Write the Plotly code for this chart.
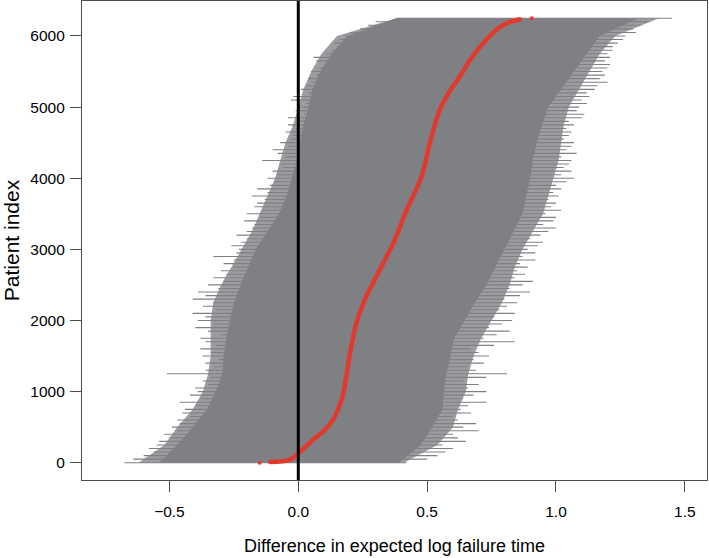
import plotly.graph_objects as go

# ---------------- data ----------------
band_idx = [0, 250, 500, 750, 1000, 1250, 1500, 1750, 2000, 2250, 2500, 2750, 3000,
            3250, 3500, 3750, 4000, 4250, 4500, 4750, 5000, 5250, 5500, 5750, 6000, 6250]
# dense "core" of the per-patient intervals
core_lo = [-0.54, -0.47, -0.41, -0.355, -0.32, -0.295, -0.29, -0.28, -0.265, -0.25, -0.225,
           -0.195, -0.165, -0.12, -0.075, -0.045, -0.025, -0.005, 0.005, 0.02, 0.04, 0.055,
           0.085, 0.13, 0.19, 0.38]
core_hi = [0.39, 0.475, 0.52, 0.56, 0.565, 0.575, 0.59, 0.605, 0.645, 0.685, 0.73, 0.765,
           0.80, 0.835, 0.87, 0.885, 0.90, 0.91, 0.925, 0.945, 0.97, 1.02, 1.07, 1.12, 1.17, 1.32]
# partly covered (hatched) zone around the core
mid_lo = [-0.62, -0.52, -0.47, -0.41, -0.37, -0.35, -0.34, -0.34, -0.34, -0.33, -0.30,
          -0.26, -0.22, -0.18, -0.15, -0.12, -0.09, -0.07, -0.05, -0.02, 0.0, 0.02,
          0.05, 0.09, 0.15, 0.38]
mid_hi = [0.41, 0.54, 0.60, 0.62, 0.65, 0.66, 0.68, 0.71, 0.75, 0.79, 0.82, 0.84,
          0.87, 0.91, 0.95, 0.97, 0.99, 1.01, 1.02, 1.03, 1.05, 1.09, 1.13, 1.17, 1.23, 1.40]

# individual patient intervals, every 50th patient
spike_idx = list(range(0, 6251, 50))
spike_lo = [-0.675, -0.64, -0.60, -0.56, -0.58, -0.55, -0.54, -0.50, -0.52, -0.47,
            -0.49, -0.46, -0.47, -0.42, -0.45, -0.44, -0.40, -0.46, -0.38, -0.42,
            -0.39, -0.40, -0.35, -0.37, -0.34, -0.51, -0.36, -0.33, -0.36, -0.31,
            -0.37, -0.34, -0.38, -0.32, -0.36, -0.38, -0.30, -0.35, -0.40, -0.33,
            -0.39, -0.36, -0.41, -0.32, -0.37, -0.33, -0.41, -0.36, -0.39, -0.31,
            -0.35, -0.29, -0.33, -0.28, -0.30, -0.25, -0.29, -0.25, -0.33, -0.24,
            -0.23, -0.26, -0.22, -0.20, -0.24, -0.20, -0.18, -0.17, -0.21, -0.15,
            -0.20, -0.14, -0.17, -0.16, -0.13, -0.18, -0.12, -0.16, -0.11, -0.09,
            -0.12, -0.08, -0.10, -0.06, -0.07, -0.14, -0.05, -0.08, -0.10, -0.04,
            -0.07, -0.03, -0.02, -0.05, -0.01, -0.04, 0.00, -0.04, 0.02, -0.01,
            0.01, 0.03, -0.03, -0.02, 0.04, 0.01, 0.03, 0.05, 0.04, 0.07,
            0.05, 0.08, 0.10, 0.07, 0.06, 0.11, 0.13, 0.15, 0.14, 0.16,
            0.18, 0.20, 0.24, 0.27, 0.30, 0.38]
spike_hi = [0.42, 0.50, 0.54, 0.57, 0.60, 0.56, 0.65, 0.62, 0.60, 0.70,
            0.64, 0.69, 0.62, 0.60, 0.67, 0.63, 0.66, 0.73, 0.64, 0.68,
            0.73, 0.66, 0.70, 0.64, 0.73, 0.81, 0.69, 0.66, 0.72, 0.68,
            0.74, 0.70, 0.67, 0.76, 0.84, 0.72, 0.77, 0.82, 0.74, 0.79,
            0.83, 0.76, 0.84, 0.78, 0.81, 0.85, 0.80, 0.86, 0.90, 0.82,
            0.87, 0.91, 0.84, 0.88, 0.85, 0.89, 0.86, 0.92, 0.87, 0.92,
            0.89, 0.93, 0.95, 0.90, 0.94, 0.97, 1.00, 0.95, 0.99, 1.00,
            0.96, 1.02, 0.98, 1.00, 0.97, 1.01, 0.99, 1.02, 1.00, 1.04,
            1.07, 1.02, 1.06, 1.03, 1.05, 1.06, 1.02, 1.08, 1.04, 1.06,
            1.07, 1.03, 1.05, 1.06, 1.04, 1.07, 1.05, 1.10, 1.11, 1.08,
            1.09, 1.12, 1.10, 1.13, 1.12, 1.15, 1.16, 1.20, 1.17, 1.19,
            1.18, 1.20, 1.21, 1.19, 1.21, 1.20, 1.22, 1.22, 1.24, 1.26,
            1.27, 1.31, 1.30, 1.33, 1.36, 1.45]

# point estimates (red curve); None splits off the isolated end points
est_idx = [0, None, 10, 40, 130, 320, 450, 600, 700, 850, 980, 1500, 1960, 2290, 2660,
           3130, 3550, 4020, 4490, 4960, 5190, 5430, 5660, 5900, 6090, 6180, 6235, None, 6250]
est_val = [-0.15, None, -0.11, -0.035, 0.0, 0.056, 0.10, 0.134, 0.148, 0.165, 0.175,
           0.199, 0.225, 0.258, 0.309, 0.374, 0.42, 0.478, 0.51, 0.549, 0.582, 0.627,
           0.666, 0.718, 0.77, 0.809, 0.861, None, 0.906]

x_ticks = [-0.5, 0.0, 0.5, 1.0, 1.5]
y_ticks = [0, 1000, 2000, 3000, 4000, 5000, 6000]

GRAY = "#7f8084"
LIGHT = "#9c9da0"
RED = "#e0392e"
AXIS = "#4d4d4d"
FONT = "Liberation Sans, Arial, Helvetica, sans-serif"

fig = go.Figure()

# hatched zone (lighter tone)
fig.add_trace(go.Scatter(
    x=mid_lo + mid_hi[::-1], y=band_idx + band_idx[::-1],
    fill="toself", fillcolor=LIGHT, mode="lines", line=dict(width=0, color=LIGHT),
    hoverinfo="skip", showlegend=False))

# core band
fig.add_trace(go.Scatter(
    x=core_lo + core_hi[::-1], y=band_idx + band_idx[::-1],
    fill="toself", fillcolor=GRAY, mode="lines", line=dict(width=0, color=GRAY),
    hoverinfo="skip", showlegend=False))

# individual intervals
sx, sy = [], []
for i, lo, hi in zip(spike_idx, spike_lo, spike_hi):
    sx += [lo, hi, None]
    sy += [i, i, None]
fig.add_trace(go.Scatter(x=sx, y=sy, mode="lines",
                         line=dict(color=GRAY, width=1.1),
                         hoverinfo="skip", showlegend=False))

# estimates
fig.add_trace(go.Scatter(x=est_val, y=est_idx, mode="lines+markers",
                         line=dict(color=RED, width=4.5, shape="spline"),
                         marker=dict(color=RED, size=4),
                         connectgaps=False, showlegend=False))

fig.add_shape(type="line", x0=0, x1=0, xref="x", y0=0, y1=1, yref="paper",
              line=dict(color="black", width=3), layer="above")

fig.update_layout(
    width=709, height=558,
    margin=dict(l=82, r=2, t=1, b=78),
    paper_bgcolor="white", plot_bgcolor="white",
    font=dict(family=FONT, color="black", size=15.5),
)
fig.update_xaxes(
    range=[-0.8393, 1.586], tickvals=x_ticks, tickformat=".1f",
    showgrid=False, zeroline=False, automargin=False,
    showline=True, mirror=True, linecolor=AXIS, linewidth=1.3,
    ticks="outside", ticklen=11, tickwidth=1.3, tickcolor=AXIS,
    ticklabelstandoff=6,
    tickfont=dict(size=15.5, family=FONT, color="black"),
    title=dict(text="Difference in expected log failure time",
               font=dict(size=18, family=FONT, color="black"), standoff=20),
)
fig.update_yaxes(
    range=[-243, 6492], tickvals=y_ticks,
    showgrid=False, zeroline=False, automargin=False,
    showline=True, mirror=True, linecolor=AXIS, linewidth=1.3,
    ticks="outside", ticklen=11, tickwidth=1.3, tickcolor=AXIS,
    ticklabelstandoff=2,
    tickfont=dict(size=15.5, family=FONT, color="black"),
    title=dict(text="Patient index",
               font=dict(size=21, family=FONT, color="black"), standoff=21),
)

fig.write_html("out.html", config={"displayModeBar": False},
               post_script="document.body.style.margin='0px';")
